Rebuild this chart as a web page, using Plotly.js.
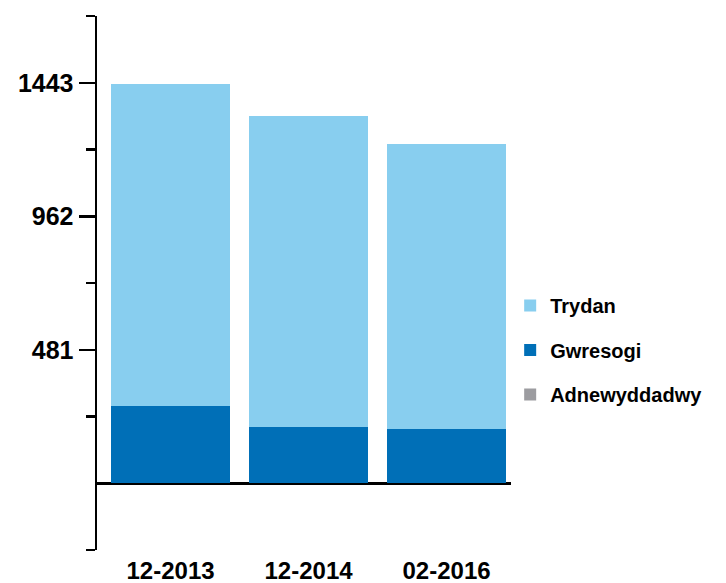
<!DOCTYPE html>
<html>
<head>
<meta charset="utf-8">
<script src="https://cdn.plot.ly/plotly-3.0.1.min.js"></script>
<style>html,body{margin:0;padding:0;background:#fff;}#chart{width:726px;height:583px;}</style>
</head>
<body>
<div id="chart"></div>
<script>
var categories = ['12-2013', '12-2014', '02-2016'];
var gwresogi = [277, 201, 194];
var trydan = [1162, 1122, 1028];
var adnewyddadwy = [0, 0, 0];
var yTickVals = [481, 962, 1443];
var yTickText = ['481', '962', '1443'];
var yMinorVals = [-240.5, 240.5, 721.5, 1202.5, 1683.5];

var FONT = 'Liberation Sans, Arial, sans-serif';

var traces = [
  {type: 'bar', name: 'Gwresogi', x: categories, y: gwresogi,
   marker: {color: 'rgb(0,111,183)'}, legendgroup: 'g', legendrank: 2, hoverinfo: 'skip'},
  {type: 'bar', name: 'Trydan', x: categories, y: trydan,
   marker: {color: 'rgb(136,206,239)'}, legendgroup: 't', legendrank: 1, hoverinfo: 'skip'},
  {type: 'bar', name: 'Adnewyddadwy', x: categories, y: adnewyddadwy,
   marker: {color: 'rgb(156,156,160)'}, legendgroup: 'a', legendrank: 3, hoverinfo: 'skip'}
];

var layout = {
  width: 726, height: 583,
  margin: {l: 97, r: 215, t: 16, b: 33, pad: 0},
  paper_bgcolor: '#fff', plot_bgcolor: '#fff',
  barmode: 'stack', bargap: 0.138,
  font: {family: FONT, weight: 'bold', color: '#000'},
  showlegend: true,
  legend: {
    x: 0.998, xanchor: 'left', y: 0.4945, yanchor: 'top',
    traceorder: 'grouped', tracegroupgap: 15.5,
    font: {family: FONT, weight: 'bold', size: 20, color: '#000'},
    bgcolor: 'rgba(0,0,0,0)', borderwidth: 0
  },
  xaxis: {
    type: 'category', range: [-0.533, 2.467],
    showline: false, showgrid: false, zeroline: false,
    ticks: '', ticklabelstandoff: 4,
    tickfont: {family: FONT, weight: 'bold', size: 24, color: '#000'}
  },
  yaxis: {
    range: [-240.5, 1683.5],
    showline: true, linecolor: '#000', linewidth: 2.5,
    showgrid: false,
    zeroline: true, zerolinecolor: '#000', zerolinewidth: 3,
    tickmode: 'array', tickvals: yTickVals, ticktext: yTickText,
    ticks: 'outside', ticklen: 16, tickwidth: 2.5, tickcolor: '#000',
    ticklabelstandoff: 0,
    tickfont: {family: FONT, weight: 'bold', size: 25, color: '#000'},
    minor: {tickmode: 'array', tickvals: yMinorVals, ticks: 'outside', ticklen: 9, tickwidth: 2.5, tickcolor: '#000', showgrid: false}
  }
};

Plotly.newPlot('chart', traces, layout, {staticPlot: true, displayModeBar: false});
</script>
</body>
</html>
